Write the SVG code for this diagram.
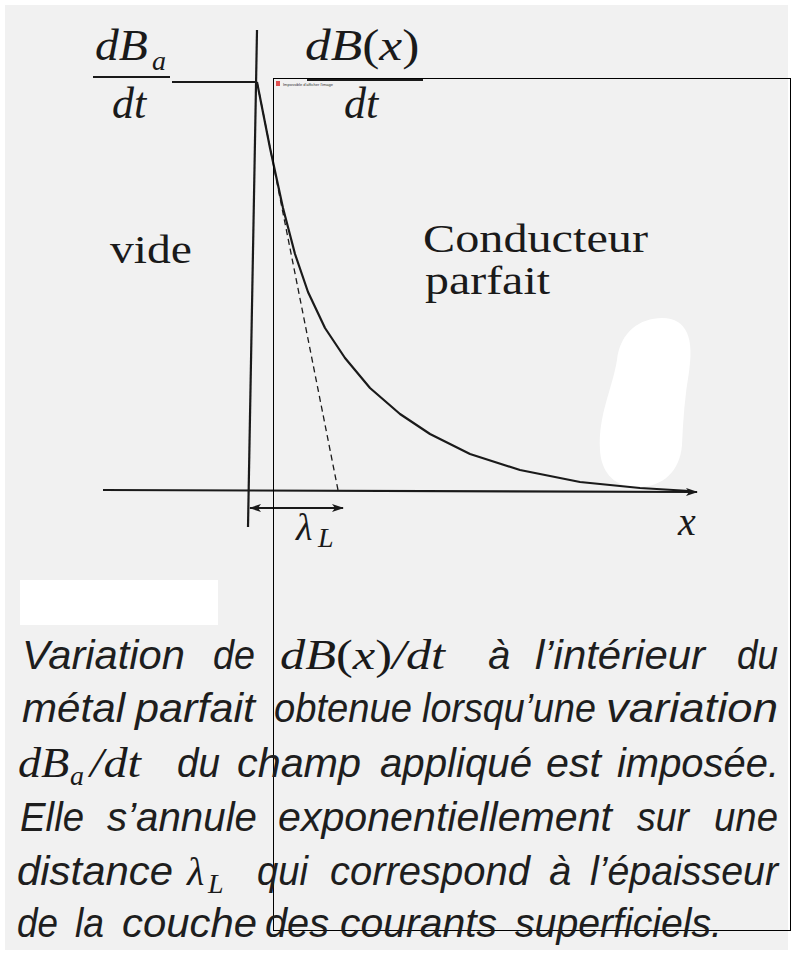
<svg xmlns="http://www.w3.org/2000/svg" width="792" height="953" viewBox="0 0 792 953">
<defs>
<style>
.math{font-family:"Liberation Serif","DejaVu Serif",serif;font-style:italic;fill:#1a1a1a}
.up{font-style:normal}
.rm{font-family:"Liberation Serif","DejaVu Serif",serif;fill:#1a1a1a}
.cap{font-family:"Liberation Sans","Arial",sans-serif;font-style:italic;font-size:40px;fill:#1e1e1e}
.ln{stroke:#1a1a1a;fill:none;stroke-width:2.2}
</style>
<marker id="ah" viewBox="0 0 12 8" refX="11" refY="4" markerWidth="12" markerHeight="8" markerUnits="userSpaceOnUse" orient="auto-start-reverse">
<path d="M0,0 L12,4 L0,8 L3,4 Z" fill="#1a1a1a"/>
</marker>
</defs>
<rect width="792" height="953" fill="#ffffff"/>
<rect x="5" y="5" width="783" height="945" fill="#f1f1f1"/>
<path d="M600,450 C598,415 612,390 617,360 C620,332 640,318 662,318 C688,318 694,340 689,372 C685,395 683,420 682,445 C680,472 662,488 635,487 C612,486 601,470 600,450 Z" fill="#ffffff"/>
<rect x="20" y="580" width="198" height="45" fill="#ffffff"/>

<g id="connectors">
<line class="ln" x1="257" y1="30" x2="248" y2="527" stroke-width="2.5"/>
<line class="ln" x1="172" y1="82" x2="257" y2="82" stroke-width="2.5"/>
<line class="ln" x1="103" y1="490" x2="697" y2="492" marker-end="url(#ah)"/>
<line class="ln" x1="250" y1="508" x2="343" y2="508" marker-start="url(#ah)" marker-end="url(#ah)" stroke-width="1.8"/>
<path class="ln" d="M257,82 L270,148 L283,208 L295,254 L308,292 L325,328 L345,358 L370,388 L400,414 L430,434 L470,454 L520,470 L580,482 L640,488 L690,491" stroke-linejoin="round" stroke-width="2.5"/>
<line x1="257" y1="82" x2="338" y2="490" stroke="#1a1a1a" stroke-width="1.3" stroke-dasharray="6,4"/>
</g>

<g id="label-dBa">
<text class="math" font-size="44" transform="translate(95,60) scale(1.08,1)">dB</text>
<text class="math" x="152" y="70" font-size="28">a</text>
<line class="ln" x1="93" y1="77" x2="170" y2="77"/>
<text class="math" x="112" y="118" font-size="44">dt</text>
</g>
<g id="label-dBx">
<text class="math" font-size="44" transform="translate(305,60) scale(1.17,1)">dB<tspan class="up">(</tspan>x<tspan class="up">)</tspan></text>
<line class="ln" x1="307" y1="80" x2="423" y2="80"/>
<text class="math" x="344" y="118" font-size="44">dt</text>
</g>
<g id="label-vide"><text class="rm" x="110" y="263" font-size="41" textLength="82" lengthAdjust="spacingAndGlyphs">vide</text></g>
<g id="label-conducteur">
<text class="rm" x="423" y="252" font-size="41" textLength="225" lengthAdjust="spacingAndGlyphs">Conducteur</text>
<text class="rm" x="425" y="294" font-size="41" textLength="125" lengthAdjust="spacingAndGlyphs">parfait</text>
</g>
<g id="label-lambda">
<text class="math" x="296" y="540" font-size="38">λ</text>
<text class="math" x="318" y="547" font-size="28">L</text>
</g>
<g id="label-x"><text class="math" x="678" y="535" font-size="40">x</text></g>

<g id="overlay">
<rect x="273.5" y="78.5" width="517" height="852" fill="none" stroke="#000" stroke-width="1"/>
<rect x="276" y="81" width="4" height="5" fill="#e05050"/>
<text x="283" y="86" font-family="Liberation Sans,sans-serif" font-size="4" fill="#333">Impossible d'afficher l'image</text>
</g>

<g id="caption">
<text class="cap" y="669"><tspan x="22" textLength="163" lengthAdjust="spacingAndGlyphs">Variation</tspan><tspan x="213" textLength="42" lengthAdjust="spacingAndGlyphs">de</tspan><tspan x="488">à</tspan><tspan x="535" textLength="170" lengthAdjust="spacingAndGlyphs">l’intérieur</tspan><tspan x="737" textLength="41" lengthAdjust="spacingAndGlyphs">du</tspan></text>
<text class="math" font-size="42" transform="translate(280,669) scale(1.2,1)">dB<tspan class="up">(</tspan>x<tspan class="up">)</tspan>/dt</text>

<text class="cap" y="722"><tspan x="22" textLength="103" lengthAdjust="spacingAndGlyphs">métal</tspan><tspan x="135" textLength="120" lengthAdjust="spacingAndGlyphs">parfait</tspan><tspan x="274" textLength="138" lengthAdjust="spacingAndGlyphs">obtenue</tspan><tspan x="422" textLength="174" lengthAdjust="spacingAndGlyphs">lorsqu’une</tspan><tspan x="606" textLength="172" lengthAdjust="spacingAndGlyphs">variation</tspan></text>

<text class="math" font-size="42" transform="translate(18,777) scale(1.1,1)">dB</text>
<text class="math" x="70" y="785" font-size="28">a</text>
<text class="math" font-size="42" transform="translate(90,777) scale(1.15,1)">/dt</text>
<text class="cap" y="777"><tspan x="177" textLength="43" lengthAdjust="spacingAndGlyphs">du</tspan><tspan x="237" textLength="124" lengthAdjust="spacingAndGlyphs">champ</tspan><tspan x="380" textLength="152" lengthAdjust="spacingAndGlyphs">appliqué</tspan><tspan x="546" textLength="55" lengthAdjust="spacingAndGlyphs">est</tspan><tspan x="617" textLength="162" lengthAdjust="spacingAndGlyphs">imposée.</tspan></text>

<text class="cap" y="831"><tspan x="20" textLength="64" lengthAdjust="spacingAndGlyphs">Elle</tspan><tspan x="107" textLength="150" lengthAdjust="spacingAndGlyphs">s’annule</tspan><tspan x="278" textLength="334" lengthAdjust="spacingAndGlyphs">exponentiellement</tspan><tspan x="637" textLength="52" lengthAdjust="spacingAndGlyphs">sur</tspan><tspan x="714" textLength="64" lengthAdjust="spacingAndGlyphs">une</tspan></text>

<text class="cap" y="885"><tspan x="17" textLength="156" lengthAdjust="spacingAndGlyphs">distance</tspan><tspan x="257" textLength="51" lengthAdjust="spacingAndGlyphs">qui</tspan><tspan x="330" textLength="200" lengthAdjust="spacingAndGlyphs">correspond</tspan><tspan x="549">à</tspan><tspan x="590" textLength="188" lengthAdjust="spacingAndGlyphs">l’épaisseur</tspan></text>
<text class="math" x="187" y="885" font-size="40">λ</text>
<text class="math" x="208" y="893" font-size="28">L</text>

<text class="cap" y="937"><tspan x="17" textLength="41" lengthAdjust="spacingAndGlyphs">de</tspan><tspan x="75" textLength="29" lengthAdjust="spacingAndGlyphs">la</tspan><tspan x="122" textLength="135" lengthAdjust="spacingAndGlyphs">couche</tspan><tspan x="265" textLength="64" lengthAdjust="spacingAndGlyphs">des</tspan><tspan x="340" textLength="157" lengthAdjust="spacingAndGlyphs">courants</tspan><tspan x="515" textLength="207" lengthAdjust="spacingAndGlyphs">superficiels.</tspan></text>
</g>
</svg>
